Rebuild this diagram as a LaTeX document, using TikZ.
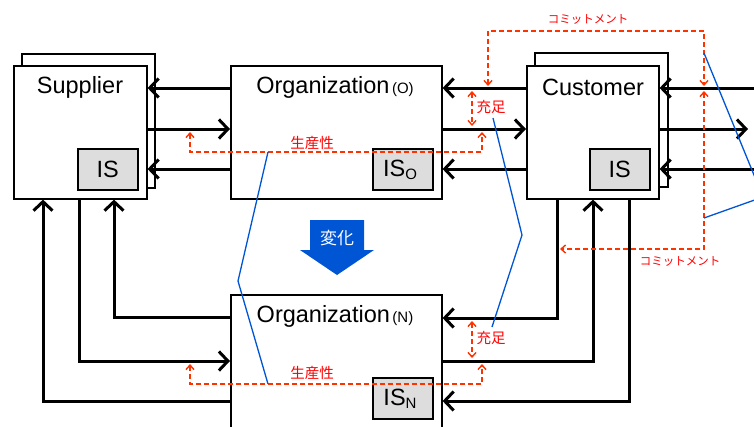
\documentclass[tikz,border=0pt]{standalone}
\usepackage{fontspec}
\setmainfont{Liberation Sans}
\newfontfamily\jpfont{Noto Sans CJK JP}
\usetikzlibrary{arrows.meta}
\definecolor{rdl}{RGB}{255,51,0}
\definecolor{rdt}{RGB}{255,0,0}
\definecolor{blu}{RGB}{0,85,213}
\definecolor{isg}{RGB}{221,221,221}
\tikzset{rtip/.tip={Straight Barb[length=4.5pt,width=8pt]}}
\begin{document}
\begin{tikzpicture}[x=1pt,y=-1pt,
  box/.style={draw,line width=1.6pt,fill=white,anchor=north west,inner sep=0pt},
  isbox/.style={draw,line width=1.6pt,fill=isg,anchor=north west,inner sep=0pt,minimum width=60pt,minimum height=41pt},
  bigtxt/.style={font=\fontsize{23.5}{26}\selectfont,inner sep=0pt},
  flow/.style={line width=3pt,-{Straight Barb[length=9pt,width=19pt]}},
  dsh/.style={rdl,line width=1.4pt,dash pattern=on 5pt off 3pt},
  rlab/.style={text=rdt,font=\jpfont\fontsize{14.5}{15}\selectfont,inner sep=0pt},
  klab/.style={text=rdt,font=\jpfont\fontsize{11.5}{12}\selectfont,inner sep=0pt},
  bline/.style={blu,line width=1.3pt}]
\useasboundingbox (0,0) rectangle (754,426);
\clip (0,0) rectangle (754,426);
% boxes
\node[box,minimum width=133pt,minimum height=134pt] (supB) at (21,53) {};
\node[box,minimum width=133pt,minimum height=133pt] (sup) at (13,65) {};
\node[bigtxt] (supT) at (80,87) {Supplier};
\node[isbox] (supIS) at (77,148) {};
\node[bigtxt] (supIST) at (supIS.center) {IS};

\node[box,minimum width=211pt,minimum height=133pt] (org) at (230,65) {};
\node[bigtxt] (orgT) at (335,87) {Organization{\fontsize{15}{15}\selectfont\,(O)}};
\node[isbox] (orgIS) at (372,148) {};

\node[box,minimum width=133pt,minimum height=134pt] (cusB) at (534,52) {};
\node[box,minimum width=132pt,minimum height=133pt] (cus) at (526,65) {};
\node[bigtxt] (cusT) at (593,87) {Customer};
\node[isbox] (cusIS) at (589,148) {};
\node[bigtxt] (cusIST) at (cusIS.center) {IS};

\node[box,minimum width=211pt,minimum height=150pt] (orgN) at (230,294) {};
\node[bigtxt] (orgNT) at (335,316) {Organization{\fontsize{15}{15}\selectfont\,(N)}};
\node[isbox] (orgNIS) at (372,377) {};

% change arrow
\fill[blu] (310,220) -- (364,220) -- (364,250) -- (374,250) -- (337,275) -- (300,250) -- (310,250) -- cycle;
\node[text=white,font=\jpfont\fontsize{17}{18}\selectfont,inner sep=0pt] (chg) at (337,238) {変化};

% coordinates
\coordinate (R) at (754,0);
\coordinate (rt) at (748,129);

% top flows
\draw[flow] (org.west |- 0,88) -- (sup.east |- 0,88);
\draw[flow] (sup.east |- 0,129) -- (org.west |- 0,129);
\draw[flow] (org.west |- 0,169) -- (sup.east |- 0,169);
\draw[flow] (cus.west |- 0,88) -- (org.east |- 0,88);
\draw[flow] (org.east |- 0,129) -- (cus.west |- 0,129);
\draw[flow] (cus.west |- 0,169) -- (org.east |- 0,169);
\draw[flow] (R |- 0,88) -- (cus.east |- 0,88);
\draw[flow] (cus.east |- 0,129) -- (rt);
\draw[flow] (R |- 0,169) -- (cus.east |- 0,169);

% lower flows
\draw[flow] (orgN.west |- 0,317) -| (sup.south -| 114,0);
\draw[flow] (sup.south -| 79,0) |- (orgN.west |- 0,361);
\draw[flow] (orgN.west |- 0,401) -| (sup.south -| 43,0);
\draw[flow] (cus.south -| 557,0) |- (orgN.east |- 0,318);
\draw[flow] (orgN.east |- 0,361) -| (cus.south -| 593,0);
\draw[flow] (cus.south -| 629,0) |- (orgN.east |- 0,401);

% IS_O, IS_N texts
\node[bigtxt] (orgIST) at (400,170) {IS\raisebox{-3pt}{\fontsize{15}{15}\selectfont O}};
\node[bigtxt] (orgNIST) at (400,399) {IS\raisebox{-3pt}{\fontsize{15}{15}\selectfont N}};

% red dashed
\draw[dsh,{rtip}-{rtip}] (488,86) -- (488,31) -- (704,31) -- (704,86);
\draw[dsh,{rtip}-{rtip}] (704,91) -- (704,249) -- (560,249);
\draw[dsh,{rtip}-{rtip}] (472,91) -- (472,126);
\draw[dsh,{rtip}-{rtip}] (472,321) -- (472,358);
\draw[dsh,{rtip}-{rtip}] (190,132) -- (190,152) -- (482,152) -- (482,132);
\draw[dsh,{rtip}-{rtip}] (190,364) -- (190,384) -- (482,384) -- (482,364);

% red labels
\node[klab] (k1) at (588,19) {コミットメント};
\node[klab] (k2) at (680,261) {コミットメント};
\node[rlab] (j1) at (491,107) {充足};
\node[rlab] (j2) at (491,338) {充足};
\node[rlab] (p1) at (312,143) {生産性};
\node[rlab] (p2) at (312,373) {生産性};

% blue lines
\draw[bline] (268,152) -- (238,281) -- (268,384);
\draw[bline] (493,118) -- (522,235) -- (492,327);
\draw[bline] (704,53) -- (763,197) -- (704,218);
\end{tikzpicture}
\end{document}
